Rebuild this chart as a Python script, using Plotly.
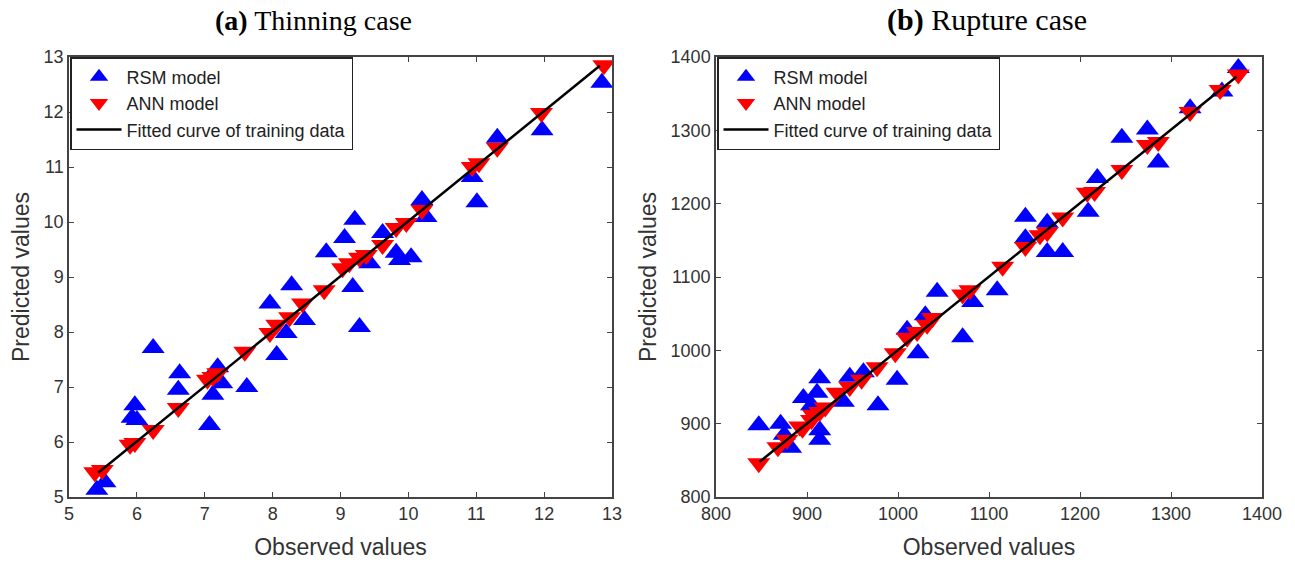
import plotly.graph_objects as go

# ---------------- (a) Thinning case ----------------
thin_rsm_obs = [5.41, 5.53, 6.24, 5.97, 5.93, 6.0, 6.63, 6.61, 7.07, 7.19, 7.25, 7.12, 7.62, 8.06,
                7.96, 8.28, 8.47, 8.2, 8.79, 9.18, 9.28, 9.06, 9.21, 9.43, 9.62, 9.82, 9.87, 10.04,
                10.2, 10.26, 10.94, 11.01, 11.31, 11.97, 12.85]
thin_rsm_pred = [5.13, 5.27, 7.71, 6.67, 6.44, 6.4, 7.25, 6.95, 6.31, 7.36, 7.07, 6.86, 7.0, 7.58,
                 8.52, 8.85, 8.22, 7.98, 9.45, 8.82, 8.09, 9.71, 10.04, 9.25, 9.8, 9.44, 9.31, 9.36,
                 10.4, 10.09, 10.82, 10.36, 11.53, 11.67, 12.53]
thin_ann_obs = [5.38, 5.49, 5.9, 5.97, 6.24, 6.61, 7.04, 7.12, 7.19, 7.59, 7.96, 8.06, 8.25, 8.44,
                8.76, 9.03, 9.13, 9.28, 9.38, 9.62, 9.82, 9.97, 10.2, 10.94, 11.04, 11.31, 11.96, 12.88]
thin_ann_pred = [5.45, 5.49, 5.95, 5.98, 6.22, 6.62, 7.13, 7.18, 7.25, 7.64, 7.98, 8.13, 8.27, 8.52,
                 8.76, 9.16, 9.25, 9.35, 9.4, 9.58, 9.89, 9.98, 10.22, 11.0, 11.07, 11.35, 11.98, 12.85]
thin_fit_x = [5.43, 12.82]
thin_fit_y = [5.44, 12.84]

# ---------------- (b) Rupture case ----------------
rup_rsm_obs = [847, 871, 882, 875, 896, 905, 911, 914, 914, 914, 940, 947, 962, 978, 999, 1010,
               1022, 1030, 1043, 1071, 1082, 1109, 1140, 1140, 1164, 1164, 1181, 1209, 1219, 1246,
               1274, 1286, 1321, 1356, 1374]
rup_rsm_pred = [898, 900, 867, 885, 935, 925, 942, 962, 891, 878, 930, 964, 970, 925, 960, 1028,
                996, 1048, 1080, 1018, 1066, 1082, 1182, 1153, 1174, 1134, 1134, 1189, 1235, 1290,
                1301, 1256, 1330, 1353, 1385]
rup_ann_obs = [847, 868, 878, 892, 895, 905, 907, 914, 920, 933, 947, 960, 977, 997, 1010, 1021,
               1032, 1038, 1071, 1079, 1115, 1140, 1156, 1164, 1181, 1208, 1216, 1246, 1274, 1286,
               1321, 1354, 1374]
rup_ann_pred = [846, 868, 878, 896, 893, 905, 912, 916, 922, 942, 950, 960, 977, 996, 1017, 1025,
                1035, 1044, 1076, 1082, 1114, 1141, 1157, 1161, 1181, 1215, 1216, 1246, 1280, 1284,
                1325, 1355, 1376]
rup_fit_x = [848, 1372]
rup_fit_y = [848, 1373]

W, H = 1295, 564
BLUE, RED = "#0000FF", "#FF0000"
SANS = "Liberation Sans, Arial, sans-serif"
SERIF = "Liberation Serif, Times New Roman, serif"
MS = 20

fig = go.Figure()

def add_panel(xa, ya, legend, rx, ry, ax, ay, fx, fy):
    fig.add_trace(go.Scatter(x=rx, y=ry, mode="markers", name="RSM model",
                             marker=dict(symbol="triangle-up", size=MS, color=BLUE),
                             xaxis=xa, yaxis=ya, legend=legend))
    fig.add_trace(go.Scatter(x=ax, y=ay, mode="markers", name="ANN model",
                             marker=dict(symbol="triangle-down", size=MS, color=RED),
                             xaxis=xa, yaxis=ya, legend=legend))
    fig.add_trace(go.Scatter(x=fx, y=fy, mode="lines", name="Fitted curve of training data",
                             line=dict(color="black", width=2.5),
                             xaxis=xa, yaxis=ya, legend=legend))

add_panel("x", "y", "legend", thin_rsm_obs, thin_rsm_pred, thin_ann_obs, thin_ann_pred,
          thin_fit_x, thin_fit_y)
add_panel("x2", "y2", "legend2", rup_rsm_obs, rup_rsm_pred, rup_ann_obs, rup_ann_pred,
          rup_fit_x, rup_fit_y)

ydom = [(H - 497) / H, (H - 57) / H]
axcommon = dict(showline=True, linecolor="#444", linewidth=1.5, mirror="ticks",
                ticks="inside", ticklen=5, tickcolor="#444", tickwidth=1.2,
                showgrid=False, zeroline=False, automargin=False,
                tickfont=dict(family=SANS, size=18, color="#333"),
                title_font=dict(family=SANS, size=23, color="#333"))

leg = dict(bgcolor="white", bordercolor="#222", borderwidth=1.5,
           font=dict(family=SANS, size=18, color="#222"),
           xanchor="left", yanchor="top", tracegroupgap=0, itemwidth=45)

fig.update_layout(
    width=W, height=H,
    margin=dict(l=0, r=0, t=0, b=0, autoexpand=False),
    plot_bgcolor="white", paper_bgcolor="white",
    xaxis=dict(domain=[69 / W, 612 / W], range=[5, 13], dtick=1, anchor="y",
               title=dict(text="Observed values", standoff=16), **axcommon),
    yaxis=dict(domain=ydom, range=[5, 13], dtick=1, anchor="x",
               title=dict(text="Predicted values", standoff=8), **axcommon),
    xaxis2=dict(domain=[716 / W, 1262 / W], range=[800, 1400], dtick=100, anchor="y2",
                title=dict(text="Observed values", standoff=16), **axcommon),
    yaxis2=dict(domain=ydom, range=[800, 1400], dtick=100, anchor="x2",
                title=dict(text="Predicted values", standoff=8), **axcommon),
    legend=dict(x=70 / W, y=ydom[1], **leg),
    legend2=dict(x=717 / W, y=ydom[1], **leg),
    annotations=[
        dict(text="<b>(a)</b> Thinning case", x=313 / W, y=1 - 20 / H, xref="paper", yref="paper",
             xanchor="center", yanchor="middle", showarrow=False,
             font=dict(family=SERIF, size=28, color="black")),
        dict(text="<b>(b)</b> Rupture case", x=987 / W, y=1 - 20 / H, xref="paper", yref="paper",
             xanchor="center", yanchor="middle", showarrow=False,
             font=dict(family=SERIF, size=30, color="black")),
    ],
)

fig.write_html("out.html")
